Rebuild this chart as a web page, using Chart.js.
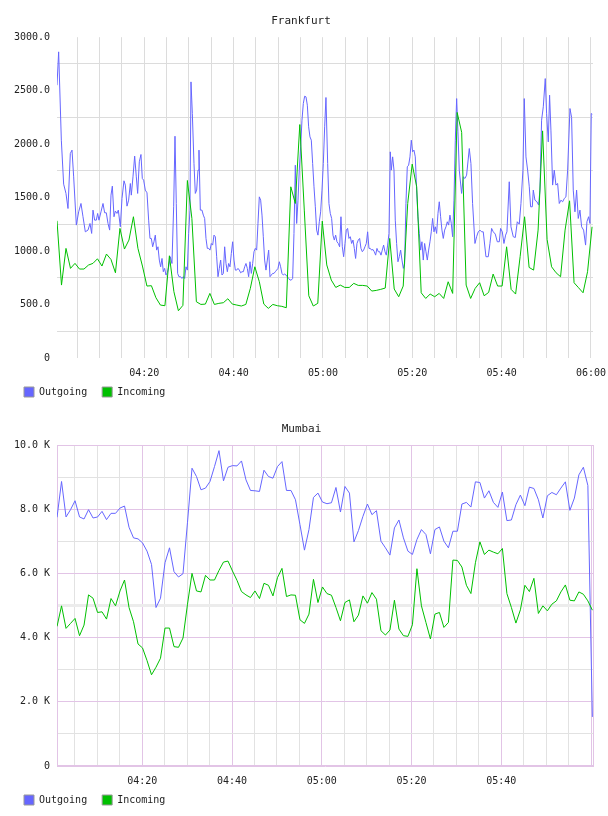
<!DOCTYPE html>
<html><head><meta charset="utf-8">
<script src="https://cdn.jsdelivr.net/npm/chart.js@4.4.1/dist/chart.umd.min.js"></script>
<style>
html,body{margin:0;padding:0;background:#fff;width:608px;height:816px;overflow:hidden;position:relative}
canvas{position:absolute;left:0}
#c1{top:0}
#c2{top:408px}
</style></head><body>
<canvas id="c1" width="608" height="415"></canvas>
<canvas id="c2" width="608" height="415"></canvas>
<script>
// ---- axis ticks (minutes after 04:00) ----
const minuteTicks = [5,10,15,20,25,30,35,40,45,50,55,60,65,70,75,80,85,90,95,100,105,110,115,120];
const labelMinutes = [20,40,60,80,100,120];
const labelTexts = ['04:20','04:40','05:00','05:20','05:40','06:00'];
const fraYTicks = [0,250,500,750,1000,1250,1500,1750,2000,2250,2500,2750,3000];
const mumYTicks = [0,1000,2000,3000,4000,5000,6000,7000,8000,9000,10000];
const seriesNames = ['Outgoing','Incoming'];

// ---- Frankfurt: Outgoing (sample times in minutes after 04:00, values) ----
const fraOutMinutes = [
0.45,0.82,1.42,1.94,2.46,2.91,3.43,3.81,4.18,4.78,
5.30,5.82,6.27,6.79,7.39,7.84,8.21,8.51,8.88,9.25,
9.55,9.85,10.30,10.75,11.12,11.49,11.87,12.24,12.54,12.84,
13.21,13.51,13.88,14.18,14.63,15.00,15.45,15.75,16.12,16.49,
16.87,17.09,17.46,17.84,18.21,18.51,18.88,19.25,19.55,19.85,
20.22,20.60,20.97,21.27,21.57,21.87,22.16,22.46,22.76,23.06,
23.36,23.66,23.96,24.25,24.55,24.85,25.15,25.45,25.82,26.19,
26.57,26.87,27.16,27.46,27.76,28.13,28.43,28.73,29.03,29.33,
29.63,29.93,30.22,30.45,
30.75,31.12,31.42,31.72,32.02,32.24,32.54,32.91,33.21,33.51,
33.81,34.11,34.41,34.71,35.00,35.30,35.60,35.90,36.20,36.50,
36.79,37.09,37.39,37.69,37.99,38.29,38.59,38.88,39.18,39.48,
39.78,40.08,40.38,40.68,40.97,41.27,41.57,41.87,42.17,42.47,
42.76,43.06,43.36,43.66,43.96,44.26,44.56,44.85,45.15,45.45,
45.75,46.05,46.35,46.64,46.94,47.24,47.54,47.84,48.14,48.44,
48.73,49.03,49.33,49.63,49.93,50.23,50.52,50.82,51.12,51.42,
51.72,52.02,52.32,52.61,52.91,53.21,53.51,53.81,54.11,54.41,
54.70,55.00,55.30,55.60,55.90,56.20,56.50,56.79,57.09,57.39,
57.69,57.99,58.29,58.58,58.88,59.18,59.48,59.78,60.08,60.38,
60.67,
61.05,61.34,61.64,61.94,62.24,62.54,62.84,63.13,63.43,63.73,
64.03,64.33,64.63,64.93,65.22,65.52,65.82,66.12,66.42,66.72,
67.02,67.31,67.61,67.91,68.21,68.51,68.81,69.10,69.40,69.70,
70.00,70.30,70.60,70.90,71.19,71.49,71.79,72.09,72.39,72.69,
72.99,73.28,73.58,73.88,74.18,74.48,74.78,75.07,75.30,75.60,
75.90,76.19,76.49,76.79,77.09,77.39,77.69,77.99,78.28,78.58,
78.88,79.18,79.48,79.78,80.07,80.37,80.67,80.97,81.27,81.57,
81.87,82.16,82.46,82.76,83.06,83.36,83.66,83.96,84.25,84.55,
84.85,85.15,85.45,85.75,86.04,86.34,86.64,86.94,87.24,87.54,
87.84,88.13,88.43,88.73,89.03,89.33,89.63,89.93,90.22,90.52,
91.04,91.42,91.79,92.16,92.76,93.13,93.50,94.03,94.40,94.77,
95.15,95.52,95.89,96.49,97.01,97.39,97.76,98.13,98.58,99.03,
99.48,99.77,100.15,100.52,100.89,101.19,101.71,102.09,102.61,103.06,
103.51,103.95,104.33,104.77,105.07,105.45,105.82,106.19,106.49,106.87,
107.09,107.46,107.91,108.28,108.58,108.95,109.33,109.77,110.07,110.45,
110.74,111.04,111.42,111.79,112.16,112.54,112.91,113.28,113.66,114.03,
114.40,114.78,115.30,115.67,116.04,116.42,116.79,117.16,117.54,117.91,
118.36,118.80,119.10,119.48,119.78,120.07,120.30];
const fraOutValues = [
2551,2863,2037,1626,1539,1398,1912,1944,1694,1243,
1367,1445,1321,1180,1196,1258,1165,1383,1289,1289,
1352,1289,1367,1445,1358,1358,1258,1196,1523,1607,
1321,1374,1352,1383,1227,1492,1657,1617,1420,1476,
1632,1523,1694,1888,1694,1539,1835,1903,1679,1663,
1570,1545,1289,1118,1118,1040,1087,1149,1009,1040,
916,853,931,807,838,776,797,853,947,884,
1414,2074,1445,791,760,760,744,760,744,853,
822,1165,1383,2582,
2286,1819,1539,1570,1757,1944,1383,1383,1336,1305,
1118,1025,1025,1009,1071,1056,1149,1134,947,760,
838,916,776,791,1040,884,807,884,853,978,
1087,916,822,822,838,822,797,807,807,853,
884,838,760,900,791,884,994,1025,1009,1258,
1507,1476,1336,1134,916,822,916,1009,760,776,
791,791,807,822,838,900,853,791,776,785,
776,760,744,729,729,744,1165,1803,1258,1476,
1757,1975,2224,2380,2448,2442,2364,2162,2068,2037,
1819,1601,1414,1196,1149,1274,1367,1570,1819,2162,
2436,
1819,1445,1352,1305,1149,1103,1149,1087,1071,1040,
1321,1040,947,1071,1196,1212,1118,1134,1071,1103,
1025,931,1071,1103,1118,1025,994,1009,1040,1071,
1180,1025,1025,1009,1015,994,962,1025,994,994,
962,1009,1056,994,962,1056,1165,1928,1757,1881,
1757,1289,1071,900,947,1009,916,838,884,1445,
1788,1803,1881,2037,1928,1944,1881,1570,1321,1165,
1009,1087,916,1071,994,916,1009,1087,1180,1305,
1180,1227,1165,1352,1461,1321,1196,1118,1196,1227,
1274,1243,1336,1258,1134,1476,2037,2426,2115,1757,
1539,1694,1679,1710,1959,1819,1445,1071,1134,1180,
1196,1180,1180,947,947,1071,1212,1180,1159,1087,
1087,1212,1180,1071,1149,1180,1648,1227,1134,1127,
1274,1252,1445,1757,2426,1881,1757,1601,1414,1414,
1570,1476,1461,1430,1570,2224,2349,2613,2286,2021,
2458,2131,1617,1757,1617,1632,1445,1476,1461,1492,
1507,1757,2333,2249,1570,1367,1570,1305,1383,1227,
1196,1056,1274,1321,1258,2286,2280];

// ---- Frankfurt: Incoming (one sample per ~1 min from 04:00:27) ----
const fraInStart = 0.45, fraInStep = 1.0067;
const fraInValues = [
1283,682,1025,838,885,832,832,869,885,928,
860,972,922,797,1212,1019,1103,1321,1025,860,
673,676,564,495,489,956,620,442,492,1660,
1305,526,501,504,604,501,511,517,554,504,
495,486,501,651,853,713,504,464,501,489,
483,470,1601,1445,2183,1383,582,486,511,1280,
870,729,660,682,660,660,698,679,679,673,
626,632,642,654,1118,645,573,673,1445,1813,
1601,610,557,598,573,604,557,713,604,2296,
2110,682,557,651,704,582,613,785,673,673,
1040,642,598,947,1321,847,822,1196,2124,1109,
853,797,760,1196,1470,704,657,610,807,1227];

// ---- Mumbai (one sample per minute from 04:01) ----
const mumStart = 1.0, mumStep = 1.0025;
const mumOutValues = [
7752,8868,7763,7990,8269,7763,7700,7990,7731,7762,
7938,7680,7876,7876,8041,8103,7442,7111,7080,6956,
6698,6284,4940,5230,6336,6801,6057,5892,5995,7600,
9282,9023,8610,8662,8868,9333,9830,8889,9313,9364,
9354,9509,8920,8589,8579,8558,9220,9023,8972,9333,
9488,8589,8589,8300,7525,6729,7370,8372,8507,8228,
8176,8207,8682,7917,8713,8507,6987,7339,7783,8166,
7835,7959,7008,6801,6574,7421,7669,7111,6698,6595,
7060,7370,7215,6615,7370,7452,7008,6801,7318,7318,
8166,8217,8072,8858,8837,8352,8579,8217,8062,8538,
7649,7669,8145,8445,8114,8693,8651,8300,7731,8424,
8527,8455,8662,8858,7969,8352,9075,9313,8744,1530];
const mumInValues = [
4352,4992,4290,4445,4600,4062,4393,5334,5230,4786,
4806,4579,5220,4992,5457,5798,4941,4496,3804,3680,
3287,2843,3080,3360,4300,4300,3721,3700,3990,5044,
6005,5457,5426,5943,5798,5798,6098,6357,6388,6078,
5788,5437,5333,5251,5457,5220,5695,5633,5302,5871,
6160,5282,5333,5323,4558,4445,4734,5819,5096,5581,
5375,5323,4941,4527,5096,5178,4496,4703,5302,5075,
5406,5199,4217,4083,4238,5168,4269,4062,4041,4403,
6150,4992,4475,3959,4734,4786,4320,4475,6419,6408,
6202,5633,5375,6336,6987,6594,6729,6667,6615,6780,
5375,4941,4455,4868,5633,5437,5850,4755,4992,4837,
5044,5147,5426,5644,5168,5147,5426,5354,5147,4858];

// ---- styling ----
const FONT = "'DejaVu Sans Mono', monospace";
const TXT = '#222222';
const BLUE = '#6666ff';
const GREEN = '#00c000';
const FRA_GRID = '#dcdcdc';
const PURPLE = '#e2c4e6';
const MINOR = '#e2e2e2';

Chart.defaults.font.family = FONT;
Chart.defaults.color = TXT;

function legendLabels(chart) {
  return chart.data.datasets.map((d, i) => ({
    text: d.label, fillStyle: d.borderColor, strokeStyle: '#999999',
    lineWidth: 1, hidden: false, datasetIndex: i, fontColor: TXT
  }));
}

function fmtTime(v, showLast) {
  const k = labelMinutes.indexOf(v);
  if (k < 0) return '';
  if (!showLast && v === 120) return '';
  return labelTexts[k];
}

const framePlugin = {
  id: 'frame',
  afterLayout(chart) {
    // pull the legend up so it sits right under the tick labels
    const lg = chart.legend;
    if (lg) { lg.top -= 8; lg.bottom -= 8; }
  },
  beforeDatasetsDraw(chart, args, opts) {
    if (!opts || !opts.color) return;
    const a = chart.chartArea, ctx = chart.ctx;
    ctx.save();
    ctx.strokeStyle = opts.color;
    ctx.lineWidth = 1;
    const l = Math.round(a.left) + 0.5, t = Math.round(a.top) + 0.5;
    const r = Math.round(a.right) - 0.5, b = Math.round(a.bottom) - 0.5;
    ctx.strokeRect(l, t, r - l, b - t);
    ctx.restore();
  }
};

function buildChart(id, cfg) {
  return new Chart(document.getElementById(id), {
    type: 'line',
    data: { datasets: [
      { label: seriesNames[0], data: cfg.outData, borderColor: BLUE, backgroundColor: BLUE,
        borderWidth: 1, pointRadius: 0, tension: 0, order: 1 },
      { label: seriesNames[1], data: cfg.inData, borderColor: GREEN, backgroundColor: GREEN,
        borderWidth: 1, pointRadius: 0, tension: 0, order: 0 }
    ]},
    plugins: [framePlugin],
    options: {
      responsive: false, animation: false, devicePixelRatio: 1,
      layout: { padding: { top: 0, left: 9, right: cfg.padRight, bottom: 0 } },
      plugins: {
        frame: { color: cfg.frame },
        title: { display: true, text: cfg.title, color: TXT,
          font: { family: FONT, size: 11, weight: 'normal' }, padding: { top: 15, bottom: 9 } },
        legend: { position: 'bottom', align: 'start',
          labels: { boxWidth: 10, boxHeight: 10, padding: 15, color: TXT,
            font: { family: FONT, size: 10 }, generateLabels: legendLabels } },
        tooltip: { enabled: false }
      },
      scales: {
        x: {
          type: 'linear', min: cfg.xMin, max: cfg.xMax,
          afterBuildTicks: s => { s.ticks = minuteTicks.map(v => ({ value: v })); },
          afterFit: s => { s.height = 22; s.paddingLeft = 0; s.paddingRight = 0; },
          ticks: { autoSkip: false, maxRotation: 0, minRotation: 0, padding: 9, color: TXT,
            font: { family: FONT, size: 10 }, callback: v => fmtTime(v, cfg.showLast) },
          grid: { drawTicks: false, lineWidth: 1, color: cfg.xGrid },
          border: { display: false }
        },
        y: {
          min: cfg.yTicks[0], max: cfg.yTicks[cfg.yTicks.length - 1],
          afterBuildTicks: s => { s.ticks = cfg.yTicks.map(v => ({ value: v })); },
          afterFit: s => { s.width = 48; s.paddingTop = 0; s.paddingBottom = 0; },
          ticks: { autoSkip: false, padding: 7, color: TXT, font: { family: FONT, size: 10 },
            callback: cfg.yLabel },
          grid: { drawTicks: false, color: cfg.yGrid, lineWidth: cfg.yGridWidth || 1 },
          border: { display: false }
        }
      }
    }
  });
}

buildChart('c1', {
  title: 'Frankfurt', padRight: 15, xMin: 0.45, xMax: 120.46, showLast: true, frame: null,
  outData: fraOutMinutes.map((t, i) => ({ x: t, y: fraOutValues[i] })),
  inData: fraInValues.map((v, i) => ({ x: fraInStart + i * fraInStep, y: v })),
  yTicks: fraYTicks,
  yLabel: v => (v % 500 !== 0 ? '' : (v === 0 ? '0' : v.toFixed(1))),
  xGrid: FRA_GRID,
  yGrid: c => (c.tick && c.tick.value % 500 === 250 ? FRA_GRID : 'rgba(0,0,0,0)')
});

buildChart('c2', {
  title: 'Mumbai', padRight: 14, xMin: 0.99, xMax: 120.66, showLast: false, frame: PURPLE,
  outData: mumOutValues.map((v, i) => ({ x: mumStart + i * mumStep, y: v })),
  inData: mumInValues.map((v, i) => ({ x: mumStart + i * mumStep, y: v })),
  yTicks: mumYTicks,
  yLabel: v => (v % 2000 !== 0 ? '' : (v === 0 ? '0' : (v / 1000).toFixed(1) + ' K')),
  xGrid: c => (c.tick && c.tick.value % 20 === 0 ? PURPLE : MINOR),
  yGrid: c => (c.tick && c.tick.value === 5000 ? '#ececec' : (c.tick && c.tick.value % 2000 === 0 ? PURPLE : MINOR)),
  yGridWidth: c => (c.tick && c.tick.value === 5000 ? 3 : 1)
});
</script>
</body></html>
